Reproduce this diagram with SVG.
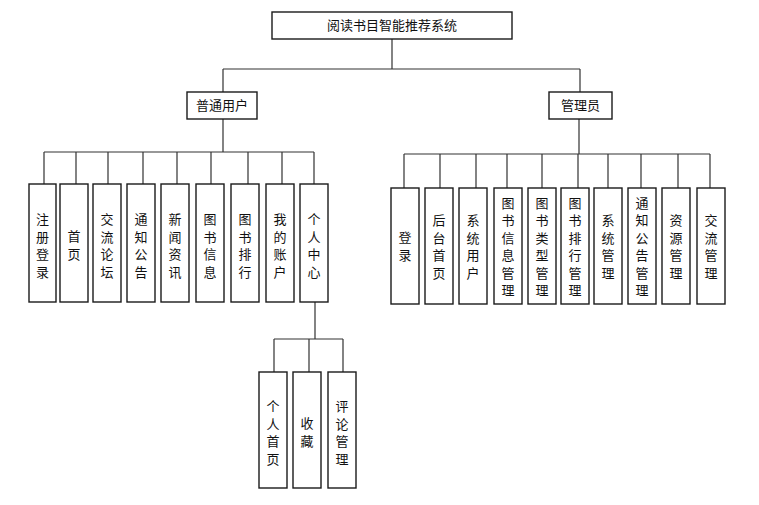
<svg xmlns="http://www.w3.org/2000/svg" width="759" height="505" viewBox="0 0 759 505">
<style>
.box{fill:#fff;stroke:#1a1a1a;stroke-width:1.4}
.ln{fill:none;stroke:#333;stroke-width:1.2}
text{font-family:"Noto Sans CJK SC","Liberation Sans",sans-serif;font-size:13px;fill:#111;text-anchor:middle}
</style>
<rect width="759" height="505" fill="#fff"/>
<g id="connectors">
<path class="ln" d="M392 39V69M223 69H580M223 69V92M580 69V92"/>
<path class="ln" d="M223 119V152M44 152H314M44 152V184M76 152V184M108 152V184M143 152V184M177 152V184M211 152V184M248 152V184M282 152V184M314 152V184"/>
<path class="ln" d="M579 119V154M404 154H710M404 154V188M440 154V188M476 154V188M507 154V188M542 154V188M578 154V188M608 154V188M641 154V188M678 154V188M710 154V188"/>
<path class="ln" d="M315 302V339M274 339H343M274 339V372M309 339V372M343 339V372"/>
</g>
<g id="root"><rect class="box" x="272" y="12" width="240" height="27"/><text x="392" y="30">阅读书目智能推荐系统</text></g>
<g id="user"><rect class="box" x="187" y="92" width="70" height="27"/><text x="222" y="110">普通用户</text></g>
<g id="admin"><rect class="box" x="549" y="92" width="63" height="27"/><text x="580.5" y="110">管理员</text></g>

<g id="u1"><rect class="box" x="29" y="184" width="27" height="118"/><text><tspan x="42.5" y="224">注</tspan><tspan x="42.5" dy="17.5">册</tspan><tspan x="42.5" dy="17.5">登</tspan><tspan x="42.5" dy="17.5">录</tspan></text></g>
<g id="u2"><rect class="box" x="60" y="184" width="28" height="118"/><text><tspan x="74" y="241">首</tspan><tspan x="74" dy="17.5">页</tspan></text></g>
<g id="u3"><rect class="box" x="93" y="184" width="28" height="118"/><text><tspan x="107" y="224">交</tspan><tspan x="107" dy="17.5">流</tspan><tspan x="107" dy="17.5">论</tspan><tspan x="107" dy="17.5">坛</tspan></text></g>
<g id="u4"><rect class="box" x="127" y="184" width="28" height="118"/><text><tspan x="141" y="224">通</tspan><tspan x="141" dy="17.5">知</tspan><tspan x="141" dy="17.5">公</tspan><tspan x="141" dy="17.5">告</tspan></text></g>
<g id="u5"><rect class="box" x="161" y="184" width="28" height="118"/><text><tspan x="175" y="224">新</tspan><tspan x="175" dy="17.5">闻</tspan><tspan x="175" dy="17.5">资</tspan><tspan x="175" dy="17.5">讯</tspan></text></g>
<g id="u6"><rect class="box" x="196" y="184" width="28" height="118"/><text><tspan x="210" y="224">图</tspan><tspan x="210" dy="17.5">书</tspan><tspan x="210" dy="17.5">信</tspan><tspan x="210" dy="17.5">息</tspan></text></g>
<g id="u7"><rect class="box" x="231" y="184" width="28" height="118"/><text><tspan x="245" y="224">图</tspan><tspan x="245" dy="17.5">书</tspan><tspan x="245" dy="17.5">排</tspan><tspan x="245" dy="17.5">行</tspan></text></g>
<g id="u8"><rect class="box" x="266" y="184" width="28" height="118"/><text><tspan x="280" y="224">我</tspan><tspan x="280" dy="17.5">的</tspan><tspan x="280" dy="17.5">账</tspan><tspan x="280" dy="17.5">户</tspan></text></g>
<g id="u9"><rect class="box" x="300" y="184" width="28" height="118"/><text><tspan x="314" y="224">个</tspan><tspan x="314" dy="17.5">人</tspan><tspan x="314" dy="17.5">中</tspan><tspan x="314" dy="17.5">心</tspan></text></g>

<g id="p1"><rect class="box" x="259" y="372" width="28" height="116"/><text><tspan x="273" y="411">个</tspan><tspan x="273" dy="17.5">人</tspan><tspan x="273" dy="17.5">首</tspan><tspan x="273" dy="17.5">页</tspan></text></g>
<g id="p2"><rect class="box" x="293" y="372" width="28" height="116"/><text><tspan x="307" y="428">收</tspan><tspan x="307" dy="17.5">藏</tspan></text></g>
<g id="p3"><rect class="box" x="328" y="372" width="28" height="116"/><text><tspan x="342" y="411">评</tspan><tspan x="342" dy="17.5">论</tspan><tspan x="342" dy="17.5">管</tspan><tspan x="342" dy="17.5">理</tspan></text></g>

<g id="a1"><rect class="box" x="391" y="188" width="28" height="116"/><text><tspan x="405" y="242">登</tspan><tspan x="405" dy="17.5">录</tspan></text></g>
<g id="a2"><rect class="box" x="425" y="188" width="28" height="116"/><text><tspan x="439" y="225">后</tspan><tspan x="439" dy="17.5">台</tspan><tspan x="439" dy="17.5">首</tspan><tspan x="439" dy="17.5">页</tspan></text></g>
<g id="a3"><rect class="box" x="459" y="188" width="28" height="116"/><text><tspan x="473" y="225">系</tspan><tspan x="473" dy="17.5">统</tspan><tspan x="473" dy="17.5">用</tspan><tspan x="473" dy="17.5">户</tspan></text></g>
<g id="a4"><rect class="box" x="494" y="188" width="28" height="116"/><text><tspan x="508" y="207.5">图</tspan><tspan x="508" dy="17.5">书</tspan><tspan x="508" dy="17.5">信</tspan><tspan x="508" dy="17.5">息</tspan><tspan x="508" dy="17.5">管</tspan><tspan x="508" dy="17.5">理</tspan></text></g>
<g id="a5"><rect class="box" x="528" y="188" width="28" height="116"/><text><tspan x="542" y="207.5">图</tspan><tspan x="542" dy="17.5">书</tspan><tspan x="542" dy="17.5">类</tspan><tspan x="542" dy="17.5">型</tspan><tspan x="542" dy="17.5">管</tspan><tspan x="542" dy="17.5">理</tspan></text></g>
<g id="a6"><rect class="box" x="561" y="188" width="28" height="116"/><text><tspan x="575" y="207.5">图</tspan><tspan x="575" dy="17.5">书</tspan><tspan x="575" dy="17.5">排</tspan><tspan x="575" dy="17.5">行</tspan><tspan x="575" dy="17.5">管</tspan><tspan x="575" dy="17.5">理</tspan></text></g>
<g id="a7"><rect class="box" x="594" y="188" width="28" height="116"/><text><tspan x="608" y="225">系</tspan><tspan x="608" dy="17.5">统</tspan><tspan x="608" dy="17.5">管</tspan><tspan x="608" dy="17.5">理</tspan></text></g>
<g id="a8"><rect class="box" x="628" y="188" width="28" height="116"/><text><tspan x="642" y="207.5">通</tspan><tspan x="642" dy="17.5">知</tspan><tspan x="642" dy="17.5">公</tspan><tspan x="642" dy="17.5">告</tspan><tspan x="642" dy="17.5">管</tspan><tspan x="642" dy="17.5">理</tspan></text></g>
<g id="a9"><rect class="box" x="662" y="188" width="28" height="116"/><text><tspan x="676" y="225">资</tspan><tspan x="676" dy="17.5">源</tspan><tspan x="676" dy="17.5">管</tspan><tspan x="676" dy="17.5">理</tspan></text></g>
<g id="a10"><rect class="box" x="697" y="188" width="28" height="116"/><text><tspan x="711" y="225">交</tspan><tspan x="711" dy="17.5">流</tspan><tspan x="711" dy="17.5">管</tspan><tspan x="711" dy="17.5">理</tspan></text></g>
</svg>
